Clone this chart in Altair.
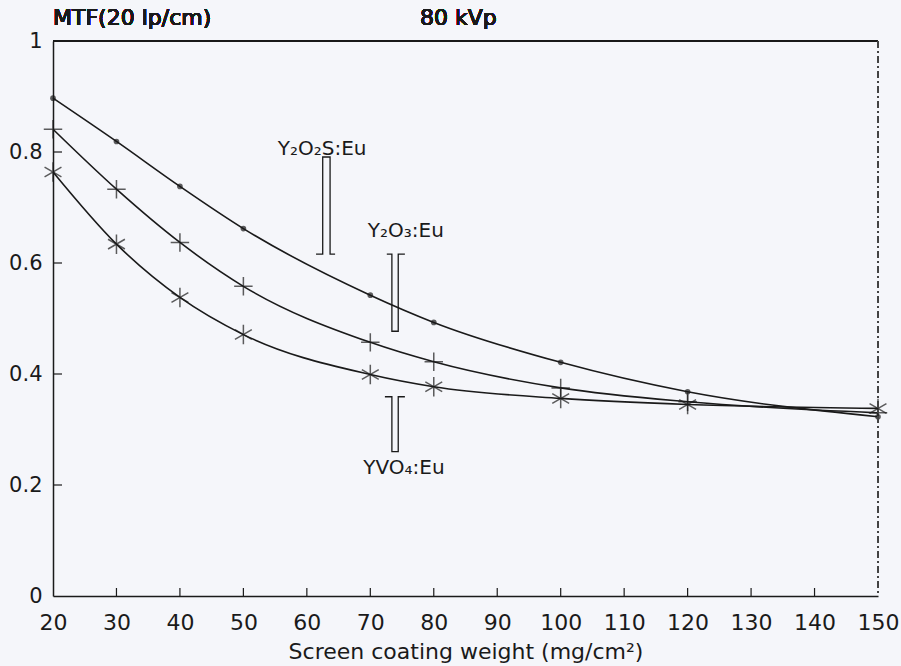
import altair as alt
import pandas as pd

# ---- data ----
weights = [20, 30, 40, 50, 70, 80, 100, 120, 150]
mtf_y2o2s = [0.897, 0.819, 0.738, 0.662, 0.542, 0.493, 0.421, 0.368, 0.323]
mtf_y2o3 = [0.841, 0.733, 0.637, 0.558, 0.457, 0.422, 0.375, 0.350, 0.330]
mtf_yvo4 = [0.764, 0.634, 0.538, 0.471, 0.399, 0.377, 0.356, 0.345, 0.338]

series_names = ["Y2O2S:Eu", "Y2O3:Eu", "YVO4:Eu"]
label_texts = ["Y\u2082O\u2082S:Eu", "Y\u2082O\u2083:Eu", "YVO\u2084:Eu"]
label_x = [62.4, 75.6, 75.3]
label_y = [0.805, 0.657, 0.231]

# bracket annotations: stem left/right x, foot left/right x, closed-end y, open-end y
br_stem_l = [62.5, 73.4, 73.4]
br_stem_r = [63.66, 74.4, 74.4]
br_foot_l = [61.45, 72.6, 72.3]
br_foot_r = [64.45, 75.45, 75.45]
br_closed = [0.791, 0.477, 0.260]
br_open = [0.616, 0.616, 0.359]

x_ticks = list(range(20, 151, 10))
y_ticks = [0, 0.2, 0.4, 0.6, 0.8, 1]

# ---- tables ----
rows = []
for name, vals in zip(series_names, [mtf_y2o2s, mtf_y2o3, mtf_yvo4]):
    for w, v in zip(weights, vals):
        rows.append({"series": name, "weight": w, "mtf": v})
df = pd.DataFrame(rows)

labels_df = pd.DataFrame({"text": label_texts, "weight": label_x, "mtf": label_y})

brow = []
for i in range(3):
    pts = [
        (br_foot_l[i], br_open[i]),
        (br_stem_l[i], br_open[i]),
        (br_stem_l[i], br_closed[i]),
        (br_stem_r[i], br_closed[i]),
        (br_stem_r[i], br_open[i]),
        (br_foot_r[i], br_open[i]),
    ]
    for k, (bx, by) in enumerate(pts):
        brow.append({"id": i, "k": k, "weight": bx, "mtf": by})
br_df = pd.DataFrame(brow)

xt_df = pd.DataFrame({"weight": x_ticks[1:-1]})
yt_df = pd.DataFrame({"mtf": y_ticks[1:-1]})

W, H = 825, 555
FONT = "DejaVu Sans"
INK = "#1a1a1a"

xscale = alt.Scale(domain=[20, 150], nice=False, zero=False)
yscale = alt.Scale(domain=[0, 1], nice=False)

x_axis = alt.Axis(
    values=x_ticks, ticks=False, tickSize=0, grid=False, labelPadding=16,
    labelFont=FONT, labelFontSize=22, labelColor=INK, domainColor=INK,
    domainWidth=1.5, title="Screen coating weight (mg/cm\u00b2)", titleFont=FONT,
    titleFontSize=22, titleFontWeight="normal", titleColor=INK, titlePadding=8,
    labelFlush=False,
)
y_axis = alt.Axis(
    values=y_ticks, ticks=False, tickSize=0, grid=False, labelPadding=11,
    labelFont=FONT, labelFontSize=21, labelColor=INK, domainColor=INK,
    domainWidth=1.5, title="", labelFlush=False,
    labelExpr="datum.value == 0 ? '0' : datum.value == 1 ? '1' : format(datum.value, '.1f')",
)

X = alt.X("weight:Q", scale=xscale, axis=x_axis)
Y = alt.Y("mtf:Q", scale=yscale, axis=y_axis)

base = alt.Chart(df)

lines = base.mark_line(color=INK, strokeWidth=1.6, interpolate="monotone").encode(
    x=X, y=Y, detail="series:N",
)

dots = base.transform_filter(alt.datum.series == series_names[0]).mark_point(
    shape="circle", filled=True, color=INK, size=32
).encode(x=X, y=Y)

pluses = base.transform_filter(alt.datum.series == series_names[1]).mark_point(
    shape="M -1 0 L 1 0 M 0 -1 L 0 1", filled=False, stroke=INK, strokeWidth=1.5, size=340
).encode(x=X, y=Y)

stars = base.transform_filter(alt.datum.series == series_names[2]).mark_point(
    shape="M 0 -1 L 0 1 M -0.866 -0.5 L 0.866 0.5 M -0.866 0.5 L 0.866 -0.5",
    filled=False, stroke=INK, strokeWidth=1.5, size=380,
).encode(x=X, y=Y)

brackets = alt.Chart(br_df).mark_line(color=INK, strokeWidth=1.3).encode(
    x=X, y=Y, detail="id:N", order="k:Q",
)

labels = alt.Chart(labels_df).mark_text(font=FONT, fontSize=20, color=INK).encode(
    x=X, y=Y, text="text:N",
)

xticks = alt.Chart(xt_df).mark_rule(color=INK, strokeWidth=1.2).encode(
    x=X, y=alt.value(H), y2=alt.value(H - 8)
)
yticks = alt.Chart(yt_df).mark_rule(color=INK, strokeWidth=1.2).encode(
    y=Y, x=alt.value(0), x2=alt.value(9)
)

top_rule = alt.Chart(df).mark_rule(color=INK, strokeWidth=1.5).encode(
    x=alt.value(0), x2=alt.value(W), y=alt.value(0)
)
right_rule = alt.Chart(df).mark_rule(color="#444444", strokeWidth=1.2, strokeDash=[7, 3, 2, 3]).encode(
    x=alt.value(W), y=alt.value(0), y2=alt.value(H)
)

ytitle = alt.Chart(df).mark_text(font=FONT, fontSize=22, color=INK, align="left", baseline="middle").encode(
    x=alt.value(0), y=alt.value(-23), text=alt.value("MTF(20 lp/cm)")
)
kvp = alt.Chart(df).mark_text(font=FONT, fontSize=22, color=INK, align="left", baseline="middle").encode(
    x=alt.value(367), y=alt.value(-23), text=alt.value("80 kVp")
)

chart = alt.layer(
    lines, dots, pluses, stars, brackets, labels, xticks, yticks, top_rule, right_rule, ytitle, kvp
).properties(
    width=W, height=H,
    autosize=alt.AutoSizeParams(type="none"),
    padding={"left": 53, "top": 41, "right": 23, "bottom": 70},
    background="#f5f6fa",
).configure_view(stroke=None)

chart.save("out.html", embed_options={"renderer": "svg", "actions": False})
